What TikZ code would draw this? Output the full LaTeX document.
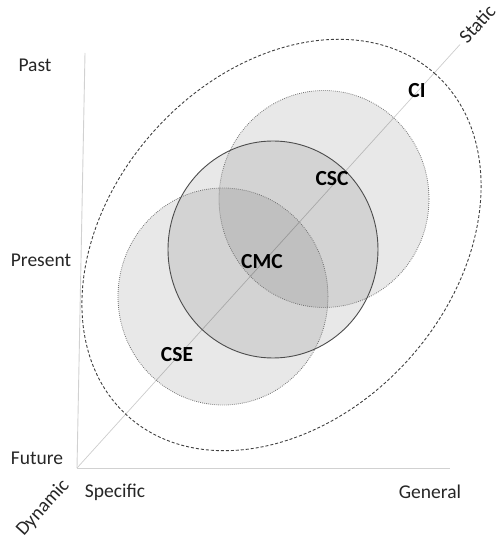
\documentclass[tikz,border=0pt]{standalone}
\usepackage{fontspec}
\setmainfont{Carlito}

\tikzset{
    axis/.style={black!18, line width=0.9pt},
    scopebox/.style={fill=black, fill opacity=0.09},
    rim/.style={black!55, line width=0.8pt, dash pattern=on 0.8pt off 1.2pt},
    corerim/.style={black!70, line width=0.9pt},
    outer/.style={black!75, line width=0.9pt, dash pattern=on 3pt off 2pt},
    axislabel/.style={text=black!85, font=\fontsize{19.5}{22}\selectfont},
    setlabel/.style={font=\fontsize{21.5}{24}\selectfont\bfseries}
}

\begin{document}
\begin{tikzpicture}[x=10pt, y=10pt]
    \useasboundingbox (-7.7,-7.3) rectangle (42.5,46.8);

    % Axes
    \coordinate (O) at (0,0);
    \coordinate (ytop) at (0.8,41.5);
    \coordinate (xend) at (37.3,0);
    \coordinate (dend) at (38.3,42.35);
    \draw[axis] (O) -- (ytop);
    \draw[axis] (O) -- (xend);
    \draw[black!20, line width=0.7pt] (O) -- (dend);

    % Centres of the sets
    \coordinate (cse) at (14.6,17.15);
    \coordinate (csc) at (24.7,26.9);
    \coordinate (cmc) at (19.6,21.85);
    \coordinate (ci) at (20.45,22.3);

    % Shaded sets
    \fill[scopebox] (csc) ellipse [x radius=10.5, y radius=10.85];
    \fill[scopebox] (cse) ellipse [x radius=10.5, y radius=10.85];
    \fill[scopebox] (cmc) ellipse [x radius=10.5, y radius=10.85];
    \draw[rim] (csc) ellipse [x radius=10.5, y radius=10.85];
    \draw[rim] (cse) ellipse [x radius=10.5, y radius=10.85];
    \draw[corerim] (cmc) ellipse [x radius=10.5, y radius=10.85];

    % Outer dashed set
    \draw[outer] (ci) circle [x radius=23, y radius=17.1, rotate=48];

    % Set labels
    \node[setlabel] (lci) at (34.0,37.7) {CI};
    \node[setlabel] (lcsc) at (25.5,28.9) {CSC};
    \node[setlabel] (lcmc) at (18.5,20.6) {CMC};
    \node[setlabel] (lcse) at (10.0,11.3) {CSE};

    % Axis labels
    \node[axislabel] (past) at (-4.2,40.3) {Past};
    \node[axislabel] (present) at (-3.6,20.8) {Present};
    \node[axislabel] (future) at (-4.0,1.0) {Future};
    \node[axislabel] (specific) at (3.8,-2.4) {Specific};
    \node[axislabel] (general) at (35.3,-2.4) {General};
    \node[axislabel, rotate=48] (dynamic) at (-3.4,-4.0) {Dynamic};
    \node[axislabel, rotate=48] (static) at (40.0,44.4) {Static};
\end{tikzpicture}
\end{document}
